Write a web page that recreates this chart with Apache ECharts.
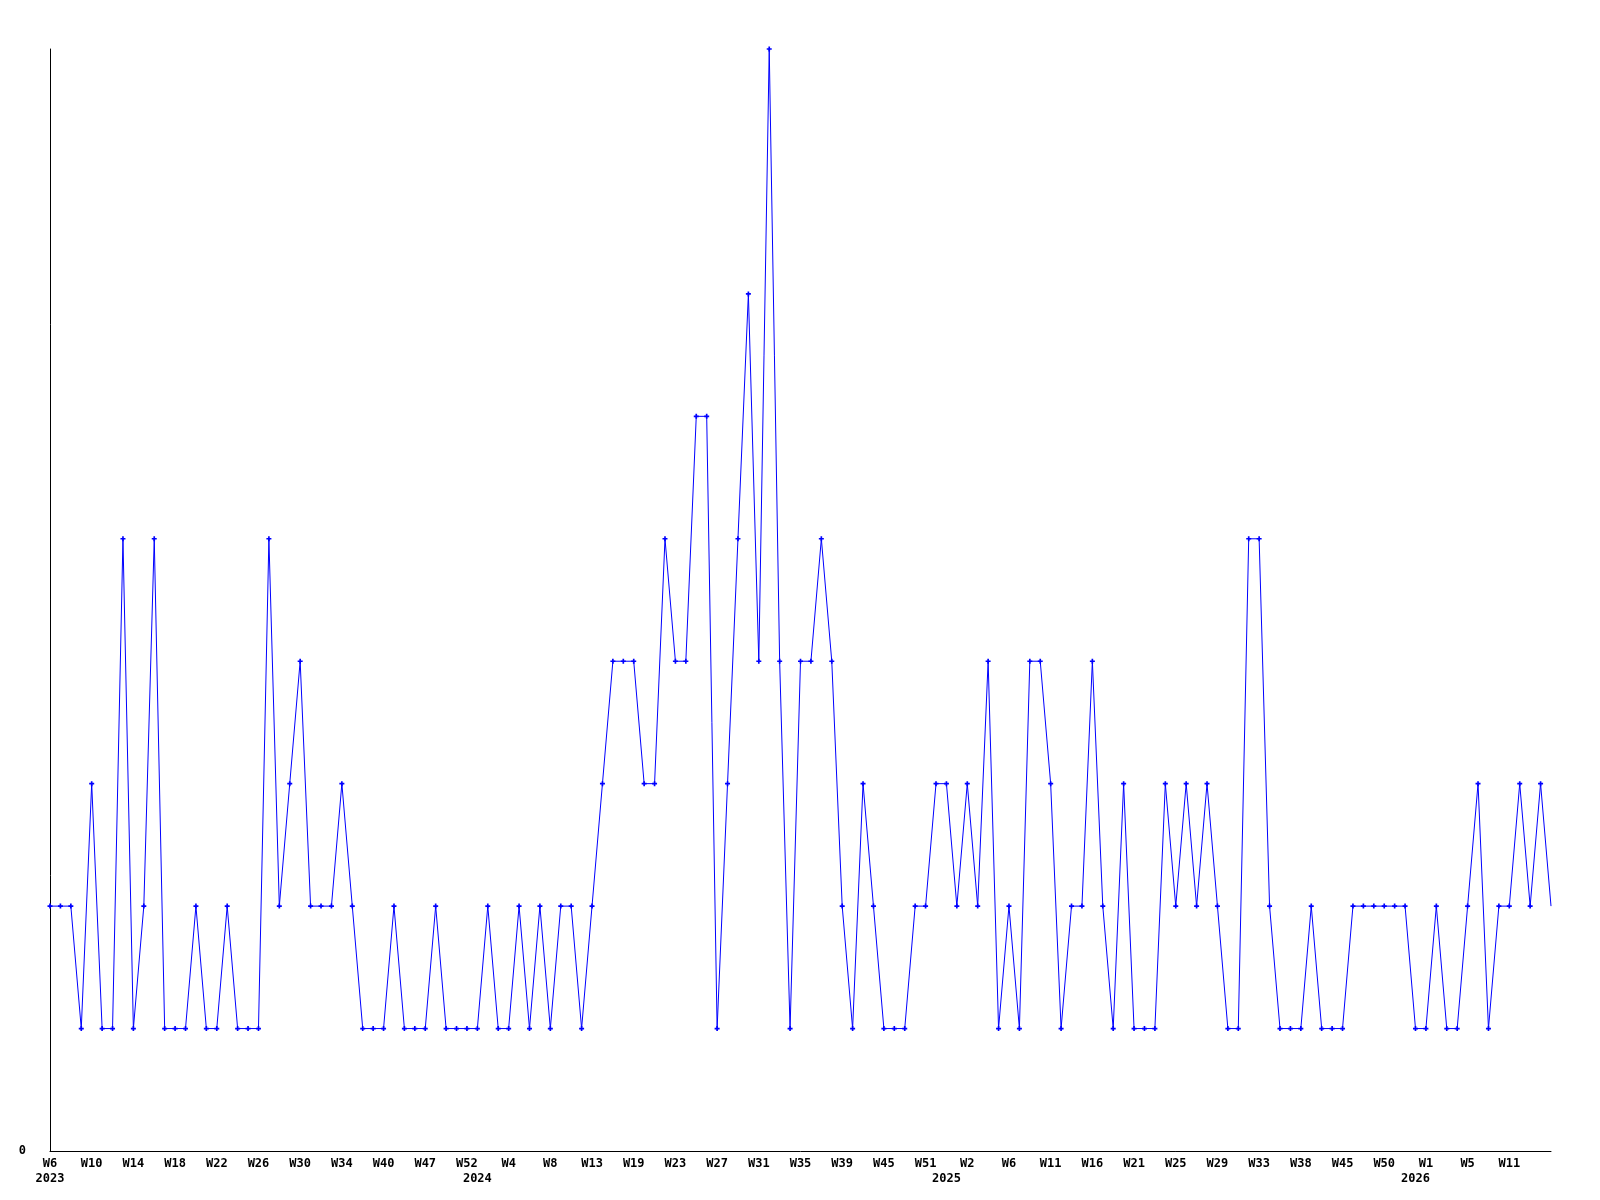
<!DOCTYPE html>
<html>
<head>
<meta charset="utf-8">
<script src="https://cdn.jsdelivr.net/npm/echarts@6/dist/echarts.min.js"></script>
<style>
  html, body { margin: 0; padding: 0; background: #ffffff; }
  #chart { width: 1600px; height: 1200px; }
</style>
</head>
<body>
<div id="chart"></div>
<script>
// ---- Data ----
const startYear = 2023;
// week numbers (strftime %W style) for each point, in order
const weekNumbers = [
  6,7,8,9,10,11,12,13,14,15,16,17,18,19,20,21,22,23,24,25,26,27,28,29,30,31,32,33,34,
  35,37,38,40,41,43,45,47,48,49,51,52,
  1,2,3,4,5,6,7,8,9,10,12,13,14,16,17,19,20,21,22,23,24,25,26,27,28,29,30,31,32,33,34,
  35,36,37,38,39,40,42,43,45,46,48,49,51,52,
  0,1,2,3,4,5,6,7,8,10,11,12,13,15,16,17,19,20,21,22,23,24,25,26,27,28,29,30,31,32,33,
  34,35,37,38,39,41,43,45,46,47,48,50,51,52,
  0,1,2,3,4,5,6,8,9,11,12,13,14,15
];
const values = [
  2,2,2,1,3,1,1,5,1,2,
  5,1,1,1,2,1,1,2,1,1,
  1,5,2,3,4,2,2,2,3,2,
  1,1,1,2,1,1,1,2,1,1,
  1,1,2,1,1,2,1,2,1,2,
  2,1,2,3,4,4,4,3,3,5,
  4,4,6,6,1,3,5,7,4,9,
  4,1,4,4,5,4,2,1,3,2,
  1,1,1,2,2,3,3,2,3,2,
  4,1,2,1,4,4,3,1,2,2,
  4,2,1,3,1,1,1,3,2,3,
  2,3,2,1,1,5,5,2,1,1,
  1,2,1,1,1,2,2,2,2,2,
  2,1,1,2,1,1,2,3,1,2,
  2,3,2,3,2
];
const yMin = 0;
const yMax = 9;
const yTickLabels = ['0'];

// ---- Derived categories ----
const years = [];
const yearStart = [];
let yr = startYear;
for (let i = 0; i < weekNumbers.length; i++) {
  if (i > 0 && weekNumbers[i] < weekNumbers[i - 1]) yr++;
  years.push(yr);
  yearStart.push(i === 0 || years[i] !== years[i - 1]);
}
const categories = weekNumbers.map((w, i) => years[i] + '-W' + w);
const lastIdx = values.length - 1;

const seriesData = values.map((v, i) =>
  i === lastIdx ? { value: v, symbol: 'none' } : v
);

const labelFont = {
  fontFamily: '"DejaVu Sans Mono", "Liberation Mono", monospace',
  fontWeight: 'bold',
  fontSize: 12,
  color: '#000000'
};

const showWeek = (idx) => idx % 4 === 0 && idx < lastIdx;

const chart = echarts.init(document.getElementById('chart'), null, { renderer: 'canvas' });
chart.setOption({
  animation: false,
  backgroundColor: '#ffffff',
  grid: { left: 50, right: 49, top: 49, bottom: 49, containLabel: false },
  xAxis: {
    type: 'category',
    data: categories,
    boundaryGap: false,
    axisLine: { show: true, lineStyle: { color: '#000000', width: 1 } },
    axisTick: { show: false },
    splitLine: { show: false },
    axisLabel: Object.assign({
      margin: 5,
      lineHeight: 15,
      interval: (idx) => showWeek(idx) || yearStart[idx],
      formatter: (val, idx) => {
        const w = showWeek(idx) ? 'W' + weekNumbers[idx] : '';
        const y = yearStart[idx] ? String(years[idx]) : '';
        return y ? w + '\n' + y : w;
      }
    }, labelFont)
  },
  yAxis: {
    type: 'value',
    min: yMin,
    max: yMax,
    interval: 1,
    axisLine: { show: true, lineStyle: { color: '#000000', width: 1 } },
    axisTick: { show: false },
    splitLine: { show: false },
    axisLabel: Object.assign({
      margin: 24,
      formatter: (v) => (yTickLabels.indexOf(String(v)) >= 0 ? String(v) : '')
    }, labelFont)
  },
  series: [{
    type: 'line',
    data: seriesData,
    showSymbol: true,
    showAllSymbol: true,
    symbol: 'path://M2,0H4V2H6V4H4V6H2V4H0V2H2Z',
    symbolSize: 5,
    itemStyle: { color: '#0000ff' },
    lineStyle: { color: '#0000ff', width: 1 },
    emphasis: { disabled: true }
  }]
});
</script>
</body>
</html>
